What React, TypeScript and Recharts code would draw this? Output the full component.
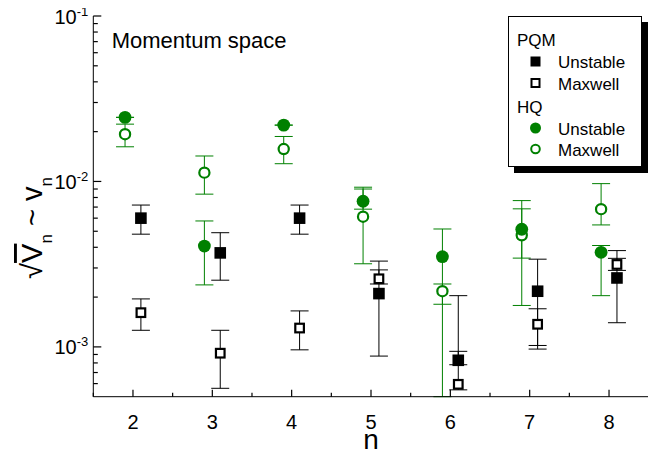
import React from 'react';
import { ScatterChart, Scatter, XAxis, YAxis, ErrorBar } from 'recharts';

// harmonic order n (lower / upper = error bar ends)
const pqmUnstableN = [2.1, 3.1, 4.1, 5.1, 6.1, 7.1, 8.1];
const pqmUnstableV = [0.006, 0.0037, 0.006, 0.0021, 0.00083, 0.00217, 0.00261];
const pqmUnstableLo = [0.0048, 0.00253, 0.0048, 0.00088, 0.00078, 0.00102, 0.0014];
const pqmUnstableHi = [0.0072, 0.0049, 0.0072, 0.00292, 0.00204, 0.00339, 0.00343];

const pqmMaxwellN = [2.1, 3.1, 4.1, 5.1, 6.1, 7.1, 8.1];
const pqmMaxwellV = [0.00161, 0.000916, 0.0013, 0.00258, 0.000594, 0.00137, 0.00315];
const pqmMaxwellLo = [0.00126, 0.000562, 0.00096, 0.0024, 0.00055, 0.00097, 0.0029];
const pqmMaxwellHi = [0.00195, 0.00126, 0.00165, 0.0033, 0.00094, 0.0017, 0.00382];

const hqUnstableN = [1.9, 2.9, 3.9, 4.9, 5.9, 6.9, 7.9];
const hqUnstableV = [0.0244, 0.00407, 0.0219, 0.00759, 0.00351, 0.00514, 0.00373];
const hqUnstableLo = [0.0244, 0.00237, 0.0219, 0.0068, 0.00181, 0.00344, 0.00204];
const hqUnstableHi = [0.0244, 0.00577, 0.0219, 0.00923, 0.00516, 0.00766, 0.0041];

const hqMaxwellN = [1.9, 2.9, 3.9, 4.9, 5.9, 6.9, 7.9];
const hqMaxwellV = [0.0193, 0.0113, 0.0157, 0.00612, 0.00217, 0.00473, 0.0068];
const hqMaxwellLo = [0.0162, 0.00838, 0.0128, 0.00318, 0.0005, 0.00178, 0.00546];
const hqMaxwellHi = [0.0222, 0.01425, 0.0187, 0.009, 0.0024, 0.00683, 0.0097];

const xTicks = [1.5, 2, 2.5, 3, 3.5, 4, 4.5, 5, 5.5, 6, 6.5, 7, 7.5, 8, 8.5];
const yMajor = [0.001, 0.01, 0.1];
const yMajorExp = ['-3', '-2', '-1'];
const yMinor = [
  0.0006, 0.0007, 0.0008, 0.0009,
  0.002, 0.003, 0.004, 0.005, 0.006, 0.007, 0.008, 0.009,
  0.02, 0.03, 0.04, 0.05, 0.06, 0.07, 0.08, 0.09,
];
const yTicks = [...yMinor, ...yMajor].sort((a, b) => a - b);

const GREEN = '#008000';
const FONT = '"Liberation Sans", Arial, sans-serif';

const build = (n: number[], v: number[], lo: number[], hi: number[]) =>
  n.map((x, i) => ({ n: x, v: v[i], err: [v[i] - lo[i], hi[i] - v[i]] }));

const pqmUnstable = build(pqmUnstableN, pqmUnstableV, pqmUnstableLo, pqmUnstableHi);
const pqmMaxwell = build(pqmMaxwellN, pqmMaxwellV, pqmMaxwellLo, pqmMaxwellHi);
const hqUnstable = build(hqUnstableN, hqUnstableV, hqUnstableLo, hqUnstableHi);
const hqMaxwell = build(hqMaxwellN, hqMaxwellV, hqMaxwellLo, hqMaxwellHi);

const majorIdx = (v: number) => yMajor.findIndex((m) => Math.abs(m - v) / m < 1e-6);

const BottomTick = ({ x, y, payload }: any) => {
  const major = Number.isInteger(payload.value);
  return (
    <g>
      <path d={`M${x},${y}V${y - (major ? 7 : 4)}`} stroke="#000" strokeWidth={1.2} fill="none" />
      {major && (
        <text x={x} y={y + 32} textAnchor="middle" fontSize={20} fontFamily={FONT} fill="#000">
          {payload.value}
        </text>
      )}
    </g>
  );
};

const TopTick = ({ x, y, payload }: any) => {
  const major = Number.isInteger(payload.value);
  return <path d={`M${x},${y}V${y + (major ? 7 : 4)}`} stroke="#000" strokeWidth={1.2} fill="none" />;
};

const LeftTick = ({ x, y, payload }: any) => {
  const i = majorIdx(payload.value);
  return (
    <g>
      <path d={`M${x},${y}H${x + (i >= 0 ? 8 : 4.5)}`} stroke="#000" strokeWidth={1.2} fill="none" />
      {i >= 0 && (
        <text x={x - 5} y={y + 7.5} textAnchor="end" fontSize={20} fontFamily={FONT} fill="#000">
          10
          <tspan dy={-8} fontSize={13}>
            {yMajorExp[i]}
          </tspan>
        </text>
      )}
    </g>
  );
};

const RightTick = ({ x, y, payload }: any) => {
  const i = majorIdx(payload.value);
  return <path d={`M${x},${y}H${x - (i >= 0 ? 8 : 4.5)}`} stroke="#000" strokeWidth={1.2} fill="none" />;
};

const FilledSquare = ({ cx, cy }: any) => <rect x={cx - 5.8} y={cy - 5.8} width={11.6} height={11.6} fill="#000" />;
const OpenSquare = ({ cx, cy }: any) => (
  <rect x={cx - 4.3} y={cy - 4.3} width={8.6} height={8.6} fill="#fff" stroke="#000" strokeWidth={2.2} />
);
const FilledCircle = ({ cx, cy }: any) => <circle cx={cx} cy={cy} r={6.4} fill={GREEN} />;
const OpenCircle = ({ cx, cy }: any) => (
  <circle cx={cx} cy={cy} r={5.1} fill="#fff" stroke={GREEN} strokeWidth={2.2} />
);

const YTitle = () => (
  <text
    transform="translate(42,228) rotate(-90)"
    textAnchor="middle"
    fontSize={29}
    fontFamily={FONT}
    fill="#000"
  >
    <tspan>√</tspan>
    <tspan textDecoration="overline">V</tspan>
    <tspan dy={10} fontSize={17}>n</tspan>
    <tspan dy={-10}> ~ v</tspan>
    <tspan dy={10} fontSize={17}>n</tspan>
  </text>
);

const XTitle = () => (
  <text x={371} y={449} textAnchor="middle" fontSize={28} fontFamily={FONT} fill="#000">
    n
  </text>
);

const Legend = () => (
  <div
    style={{
      position: 'absolute',
      left: 508,
      top: 16,
      width: 134,
      height: 151,
      boxSizing: 'border-box',
      border: '1px solid #000',
      background: '#fff',
      boxShadow: '6px 6px 0 #000',
    }}
  >
    <svg width={132} height={149} style={{ display: 'block' }}>
      <g fontFamily={FONT} fontSize={17} fill="#000">
        <text x={8} y={29}>PQM</text>
        <rect x={21.5} y={39.5} width={10} height={10} fill="#000" />
        <text x={49} y={51}>Unstable</text>
        <rect x={22.5} y={62} width={8} height={8} fill="#fff" stroke="#000" strokeWidth={2} />
        <text x={49} y={72.5}>Maxwell</text>
        <text x={8} y={95.5}>HQ</text>
        <circle cx={26.5} cy={111} r={5.5} fill={GREEN} />
        <text x={49} y={117.5}>Unstable</text>
        <circle cx={26.5} cy={132} r={4.3} fill="#fff" stroke={GREEN} strokeWidth={2} />
        <text x={49} y={138.5}>Maxwell</text>
      </g>
    </svg>
  </div>
);

export default function App() {
  return (
    <div style={{ position: 'relative', width: 656, height: 457, margin: '-8px 0 0 -8px' }}>
      <ScatterChart width={656} height={457} margin={{ top: 16, right: 7.3, bottom: 0, left: 0 }}>
        <XAxis
          dataKey="n"
          type="number"
          domain={[1.5, 8.5]}
          ticks={xTicks}
          interval={0}
          height={60.3}
          tickSize={0}
          tickMargin={0}
          tick={<BottomTick />}
          axisLine={{ stroke: '#000' }}
          tickLine={false}
          label={<XTitle />}
        />
        <XAxis
          xAxisId="top"
          orientation="top"
          type="number"
          domain={[1.5, 8.5]}
          ticks={xTicks}
          interval={0}
          height={0}
          tickSize={0}
          tickMargin={0}
          tick={<TopTick />}
          axisLine={{ stroke: '#000' }}
          tickLine={false}
        />
        <YAxis
          dataKey="v"
          type="number"
          scale="log"
          domain={[0.0005, 0.1]}
          allowDataOverflow
          ticks={yTicks}
          interval={0}
          width={93.3}
          tickSize={0}
          tickMargin={0}
          tick={<LeftTick />}
          axisLine={{ stroke: '#000' }}
          tickLine={false}
          label={<YTitle />}
        />
        <YAxis
          yAxisId="right"
          orientation="right"
          type="number"
          scale="log"
          domain={[0.0005, 0.1]}
          allowDataOverflow
          ticks={yTicks}
          interval={0}
          width={0}
          tickSize={0}
          tickMargin={0}
          tick={<RightTick />}
          axisLine={{ stroke: '#000' }}
          tickLine={false}
        />
        <Scatter data={hqMaxwell} shape={<OpenCircle />} isAnimationActive={false}>
          <ErrorBar dataKey="err" direction="y" width={9} stroke={GREEN} strokeWidth={1} />
        </Scatter>
        <Scatter data={hqUnstable} shape={<FilledCircle />} isAnimationActive={false}>
          <ErrorBar dataKey="err" direction="y" width={9} stroke={GREEN} strokeWidth={1} />
        </Scatter>
        <Scatter data={pqmMaxwell} shape={<OpenSquare />} isAnimationActive={false}>
          <ErrorBar dataKey="err" direction="y" width={9} stroke="#000" strokeWidth={1} />
        </Scatter>
        <Scatter data={pqmUnstable} shape={<FilledSquare />} isAnimationActive={false}>
          <ErrorBar dataKey="err" direction="y" width={9} stroke="#000" strokeWidth={1} />
        </Scatter>
      </ScatterChart>
      <svg
        width={656}
        height={457}
        style={{ position: 'absolute', left: 0, top: 0, pointerEvents: 'none' }}
      >
        <text x={111.7} y={48} fontSize={22} fontFamily={FONT} fill="#000">
          Momentum space
        </text>
      </svg>
      <Legend />
    </div>
  );
}
